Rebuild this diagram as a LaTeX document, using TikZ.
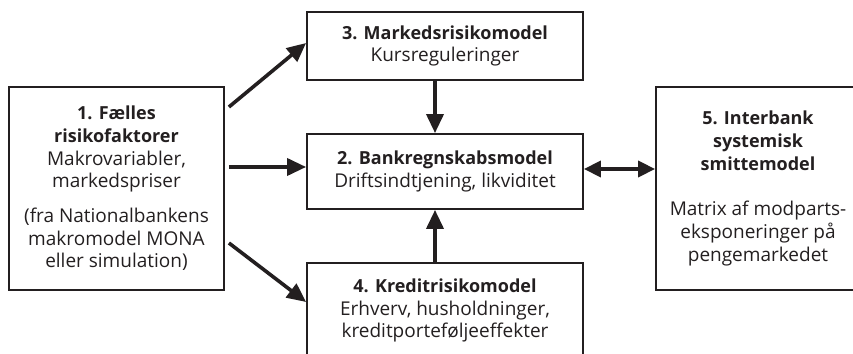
\documentclass[tikz,border=0pt]{standalone}
\usepackage{fontspec}
\setmainfont{Open Sans}
\usetikzlibrary{arrows.meta}
\definecolor{ink}{HTML}{231F20}
% box headings are set a little smaller than the body lines
\newcommand{\boxhead}[1]{{\fontsize{18}{22.7}\selectfont\bfseries #1}}
\begin{document}
\begin{tikzpicture}[x=1pt,y=1pt,
  label text/.style={align=center, text=ink, inner sep=0pt,
    font=\fontsize{19}{22.7}\selectfont},
  box/.style={draw=ink, line width=1.8pt, label text},
  link/.style={draw=ink, line width=3.6pt, -{Triangle[length=19pt,width=17pt]}},
  twoway/.style={draw=ink, line width=3.6pt, {Triangle[length=17pt,width=16pt]}-{Triangle[length=17pt,width=16pt]}}]
\clip (0,0) rectangle (853,353);
\useasboundingbox (0,0) rectangle (853,353);
% boxes
\node[box, minimum width=215pt, minimum height=203pt] (b1) at (116.5,164.5)
  {\boxhead{1. Fælles}\\ \boxhead{risikofaktorer}\\ Makrovariabler,\\ markedspriser\\[12pt]
   (fra Nationalbankens\\ makromodel MONA\\ eller simulation)};
\node[box, minimum width=276pt, minimum height=68pt] (b3) at (445,307)
  {\boxhead{3. Markedsrisikomodel}\\ Kursreguleringer};
\node[box, minimum width=276pt, minimum height=75pt] (b2) at (445,181.5)
  {\boxhead{2. Bankregnskabsmodel}\\ Driftsindtjening, likviditet};
\node[box, minimum width=276pt, minimum height=95pt] (b4) at (445,42.5)
  {\boxhead{4. Kreditrisikomodel}\\ Erhverv, husholdninger,\\ kreditporteføljeeffekter};
% the interbank box runs off the right edge; its text is centred on its own
\node[box, minimum width=230pt, minimum height=203pt] (b5) at (771,164.5) {};
\node[label text] (b5text) at (758,164.5)
  {\boxhead{5. Interbank}\\ \boxhead{systemisk}\\ \boxhead{smittemodel}\\[22.7pt]
   Matrix af modparts-\\ eksponeringer på\\ pengemarkedet};
% connectors
\draw[link] ([xshift=4pt,yshift=81.5pt]b1.east) -- ([yshift=3pt]b3.west);
\draw[link] ([xshift=4pt,yshift=21.5pt]b1.east) -- ([yshift=4.5pt]b2.west);
\draw[link] ([xshift=4pt,yshift=-54.5pt]b1.east) -- ([yshift=8.5pt]b4.west);
\draw[link] ([xshift=-10pt]b3.south) -- ([xshift=-10pt]b2.north);
\draw[link] ([xshift=-10pt]b4.north) -- ([xshift=-10pt]b2.south);
\draw[twoway] ([yshift=2.5pt]b2.east) -- ([yshift=19.5pt]b5.west);
\end{tikzpicture}
\end{document}
